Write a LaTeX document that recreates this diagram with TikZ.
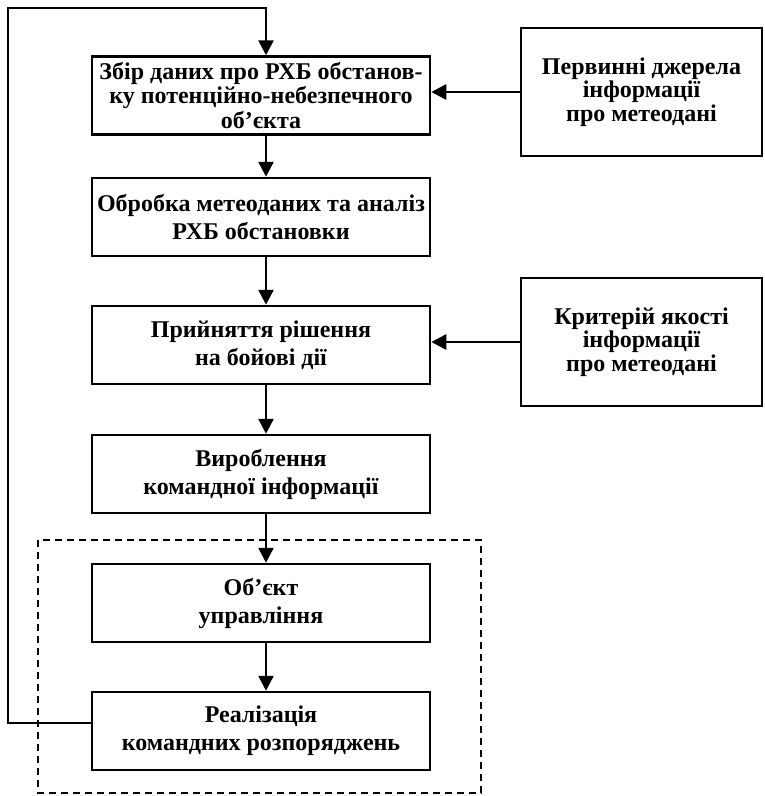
\documentclass[tikz,border=0pt]{standalone}
\usepackage{fontspec}
\setmainfont{Liberation Serif}
\usetikzlibrary{arrows.meta}
\begin{document}
\begin{tikzpicture}[x=1pt,y=-1pt,
  box/.style={draw, line width=2.5pt, minimum width=338pt, minimum height=78pt,
    align=center, inner sep=0pt, font=\fontsize{24}{28}\selectfont\bfseries},
  side/.style={draw, line width=2.5pt, minimum width=241pt, minimum height=128pt,
    align=center, inner sep=0pt, font=\fontsize{24}{23.5}\selectfont\bfseries},
  arr/.style={line width=2.6pt, -{Triangle[length=15pt,width=15pt]}},
  grp/.style={line width=2pt, dash pattern=on 7pt off 5pt},
]
\useasboundingbox (0,0) rectangle (764,796);

\node[box, font=\fontsize{24}{24.5}\selectfont\bfseries] (b1) at (261,95.5)
  {Збір даних про РХБ обстанов-\\ку потенційно-небезпечного\\об’єкта};
\node[box] (b2) at (261,217) {Обробка метеоданих та аналіз\\РХБ обстановки};
\node[box] (b3) at (261,345) {Прийняття рішення\\на бойові дії};
\node[box] (b4) at (261,474) {Вироблення\\командної інформації};
\node[box] (b5) at (261,603) {Об’єкт\\управління};
\node[box] (b6) at (261,731) {Реалізація\\командних розпоряджень};

\node[side] (r1) at (641.5,92) {Первинні джерела\\інформації\\про метеодані};
\node[side] (r2) at (641.5,342) {Критерій якості\\інформації\\про метеодані};

\draw[grp] (38,540) rectangle (481,793);

\coordinate (ax) at (266,0);
\coordinate (tl) at (8,8);

\draw[arr] (b1.south -| ax) -- (b2.north -| ax);
\draw[arr] (b2.south -| ax) -- (b3.north -| ax);
\draw[arr] (b3.south -| ax) -- (b4.north -| ax);
\draw[arr] (b4.south -| ax) -- (b5.north -| ax);
\draw[arr] (b5.south -| ax) -- (b6.north -| ax);

\draw[arr] (r1.west) -- (r1.west -| b1.east);
\draw[arr] (r2.west) -- (r2.west -| b3.east);

\draw[arr] ([yshift=8pt]b6.west) -| (tl) -| (b1.north -| ax);
\end{tikzpicture}
\end{document}
